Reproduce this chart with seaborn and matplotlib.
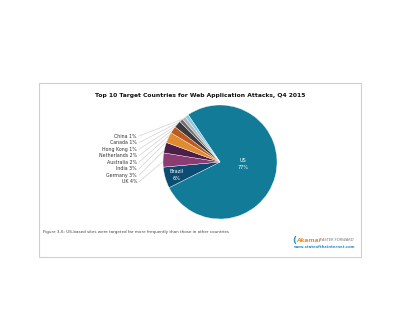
import numpy as np
import matplotlib
matplotlib.use("Agg")
import matplotlib.pyplot as plt
import seaborn as sns
from matplotlib.patches import Rectangle

# Share of web application attacks by target country, Q4 2015
countries = ["US", "Brazil", "UK", "Germany", "India", "Australia",
             "Netherlands", "Hong Kong", "Canada", "China"]
shares = [77, 6, 4, 3, 3, 2, 2, 1, 1, 1]
colors = ["#117b98", "#0b4d72", "#8c3c72", "#4b1f4a", "#e08b32",
          "#c0591f", "#3c3c3e", "#6e6e70", "#b4b4b6", "#86cbe4"]

title = "Top 10 Target Countries for Web Application Attacks, Q4 2015"
caption = ("Figure 3-6: US-based sites were targeted far more frequently "
           "than those in other countries")

sns.set_theme(style="white")
plt.rcParams["font.family"] = ["DejaVu Sans"]

W, H = 400, 326
fig = plt.figure(figsize=(W / 100, H / 100), dpi=100)
ax = fig.add_axes([0, 0, 1, 1])
ax.set_xlim(0, W)
ax.set_ylim(0, H)
ax.set_aspect("equal")
ax.axis("off")

def Y(y):
    # convert a top-down pixel row into axis coordinates
    return H - y

# panel frame
ax.add_patch(Rectangle((39, Y(257)), 322, 174, fill=False,
                       edgecolor="#cfcfcf", linewidth=0.8))

cx, cy, r = 220, Y(162), 57
wedges, _ = ax.pie(shares, colors=colors, startangle=124, counterclock=False,
                   center=(cx, cy), radius=r,
                   wedgeprops=dict(linewidth=0.25, edgecolor="white"))
ax.set_xlim(0, W)
ax.set_ylim(0, H)

# labels inside the two largest slices
inner = {"US": (243, 164), "Brazil": (177, 175)}
for i, name in enumerate(countries[:2]):
    x, y = inner[name]
    ax.text(x, Y(y), f"{name}\n{shares[i]}%", color="white", fontsize=3.6,
            ha="center", va="center", linespacing=1.3)

# leader-line labels for the small slices, stacked on the left
small = list(range(2, len(countries)))[::-1]  # China at top down to UK
label_x = 137
y0, dy = 136, 6.55
for k, i in enumerate(small):
    ly = Y(y0 + k * dy)
    w = wedges[i]
    mid = np.deg2rad((w.theta1 + w.theta2) / 2)
    px = cx + r * 0.97 * np.cos(mid)
    py = cy + r * 0.97 * np.sin(mid)
    ax.plot([label_x + 2, px], [ly, py], color="#cccccc", linewidth=0.45,
            zorder=0.5)
    ax.text(label_x, ly, f"{countries[i]} {shares[i]}%", fontsize=3.4,
            color="#333333", ha="right", va="center")

ax.text(200, Y(96), title, fontsize=4.3, fontweight="bold", color="#111111",
        ha="center", va="center")
ax.text(43, Y(232), caption, fontsize=3.0, color="#444444",
        ha="left", va="center")

# brand mark, bottom right
ax.text(294, Y(240), "(", fontsize=6.5, color="#2a8fd0", ha="center",
        va="center", fontweight="bold")
ax.text(296.5, Y(240), "Akamai", fontsize=4.2, color="#f08a24", style="italic",
        fontweight="bold", ha="left", va="center")
ax.text(320, Y(240), "FASTER FORWARD", fontsize=2.6, color="#777777",
        style="italic", ha="left", va="center")
ax.text(355, Y(246.5), "www.stateoftheinternet.com", fontsize=2.7,
        color="#2a8fd0", fontweight="bold", ha="right", va="center")

fig.savefig("out.png", dpi=100, facecolor="white")
